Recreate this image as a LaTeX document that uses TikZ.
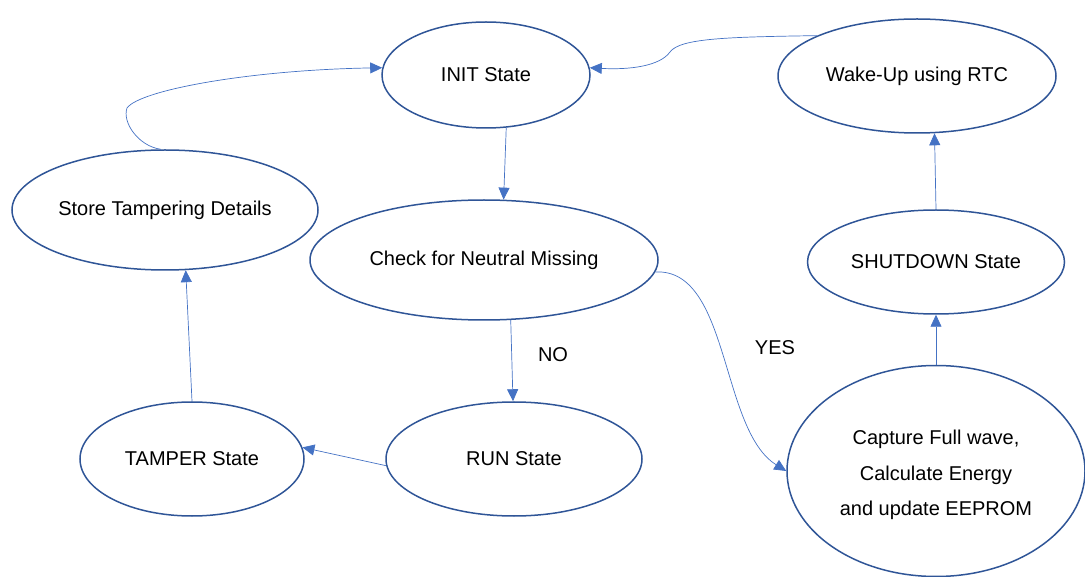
\documentclass[tikz,border=0pt]{standalone}
\usepackage{fontspec}
\setmainfont{Liberation Sans}
\usetikzlibrary{positioning,shapes.geometric,arrows.meta}
\definecolor{stateline}{HTML}{2F5597}
\definecolor{flowline}{HTML}{4472C4}

\begin{document}
\begin{tikzpicture}[x=1pt,y=-1pt,
        state/.style={ellipse, draw=stateline, line width=1.5pt, inner sep=0pt,
            align=center, font=\fontsize{20}{35.5}\selectfont},
        flow/.style={draw=flowline, line width=0.7pt, -{Triangle[length=12pt,width=11pt]}},
        tag/.style={font=\fontsize{20}{24}\selectfont}]
        \useasboundingbox (0,0) rectangle (1085,577);

        % states
        \node[state, minimum width=208pt, minimum height=106pt] (init) at (486,75) {INIT State};
        \node[state, minimum width=278pt, minimum height=114pt] (wake) at (917,76) {Wake-Up using RTC};
        \node[state, minimum width=306pt, minimum height=120pt] (store) at (165,210) {Store Tampering Details};
        \node[state, minimum width=348pt, minimum height=120pt] (check) at (484,260) {Check for Neutral Missing};
        \node[state, minimum width=257pt, minimum height=104pt] (shutdown) at (936,262) {SHUTDOWN State};
        \node[state, minimum width=224pt, minimum height=114pt] (tamper) at (192,459) {TAMPER State};
        \node[state, minimum width=256pt, minimum height=114pt] (run) at (514,459) {RUN State};
        \node[state, minimum width=298pt, minimum height=211pt, text height=94pt] (capture) at (936,471)
            {Capture Full wave,\\Calculate Energy\\and update EEPROM};

        % transitions
        \draw[flow] (wake.158) .. controls (730,37) and (680,38) .. (670,52)
            .. controls (660,66) and (630,70) .. (init.4);
        \draw[flow] (store.94) .. controls (138,146) and (122,122) .. (127,108)
            .. controls (140,90) and (250,70) .. (init.176);
        \draw[flow] (init.-69) -- (check.72);
        \draw[flow] (check.-4) .. controls (730,268) and (720,430) .. (capture.west);
        \draw[flow] (check.-66) -- (run.91);
        \draw[flow] (run.183) -- (tamper.6);
        \draw[flow] (tamper.north) -- (store.-71);
        \draw[flow] (capture.north) -- (shutdown.south);
        \draw[flow] (shutdown.north) -- (wake.-73);

        \node[tag] (no) at (553,355) {NO};
        \node[tag] (yes) at (775,348) {YES};
\end{tikzpicture}
\end{document}
